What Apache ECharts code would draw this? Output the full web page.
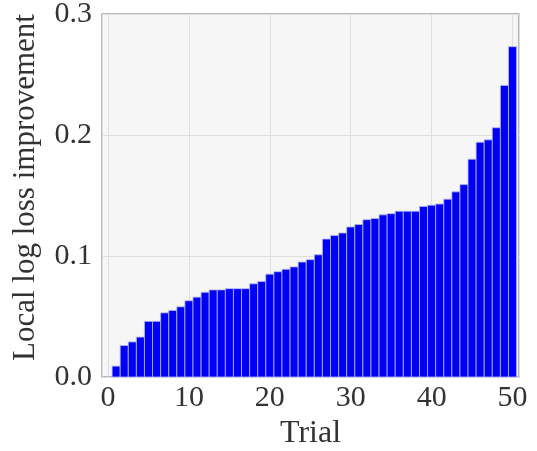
<!DOCTYPE html>
<html>
<head>
<meta charset="utf-8">
<script src="https://cdn.jsdelivr.net/npm/echarts@6/dist/echarts.min.js"></script>
<style>
  html, body { margin: 0; padding: 0; background: #ffffff; }
  #chart { width: 537px; height: 451px; }
</style>
</head>
<body>
<div id="chart"></div>
<script>
// Trial numbers and the local log-loss improvement of each trial (sorted ascending)
const trials = [1, 2, 3, 4, 5, 6, 7, 8, 9, 10,
                11, 12, 13, 14, 15, 16, 17, 18, 19, 20,
                21, 22, 23, 24, 25, 26, 27, 28, 29, 30,
                31, 32, 33, 34, 35, 36, 37, 38, 39, 40,
                41, 42, 43, 44, 45, 46, 47, 48, 49, 50];
const improvement = [0.009, 0.026, 0.029, 0.033, 0.046, 0.046, 0.053, 0.055, 0.058, 0.063,
                     0.066, 0.070, 0.072, 0.072, 0.073, 0.073, 0.073, 0.077, 0.079, 0.085,
                     0.087, 0.089, 0.091, 0.095, 0.097, 0.101, 0.114, 0.117, 0.119, 0.124,
                     0.126, 0.130, 0.131, 0.134, 0.135, 0.137, 0.137, 0.137, 0.141, 0.142,
                     0.143, 0.147, 0.153, 0.159, 0.180, 0.194, 0.196, 0.206, 0.241, 0.273];
const xTicks = [0, 10, 20, 30, 40, 50];
const yTicks = [0.0, 0.1, 0.2, 0.3];

const FONT = '"Liberation Serif", "DejaVu Serif", serif';
const TEXT = '#333333';

const chart = echarts.init(document.getElementById('chart'), null, { renderer: 'canvas' });

const data = trials.map((t, i) => [t, improvement[i]]);

chart.setOption({
  animation: false,
  backgroundColor: '#ffffff',
  grid: {
    left: 102, right: 18, top: 14, bottom: 74,
    outerBoundsMode: 'none',
    containLabel: false,
    show: true,
    backgroundColor: '#f6f6f6',
    borderColor: '#a0a0a0',
    borderWidth: 1.5
  },
  xAxis: {
    type: 'value',
    min: -0.75,
    max: 50.8,
    splitNumber: 5,
    name: 'Trial',
    nameLocation: 'middle',
    nameGap: 40,
    nameTextStyle: { fontFamily: FONT, fontSize: 32, color: TEXT },
    axisLine: { show: false },
    axisTick: { show: false },
    axisLabel: {
      fontFamily: FONT, fontSize: 30, color: TEXT, margin: 6,
      formatter: v => (xTicks.indexOf(v) >= 0 ? String(v) : '')
    },
    splitLine: { show: true, lineStyle: { color: '#dedede', width: 1 } }
  },
  yAxis: {
    type: 'value',
    min: 0,
    max: 0.3,
    interval: 0.1,
    name: 'Local log loss improvement',
    nameLocation: 'middle',
    nameGap: 61,
    nameTextStyle: { fontFamily: FONT, fontSize: 31, color: TEXT, padding: [0, 0, 0, 16] },
    axisLine: { show: false },
    axisTick: { show: false },
    axisLabel: {
      fontFamily: FONT, fontSize: 30, color: TEXT, margin: 10,
      formatter: v => {
        const hit = yTicks.find(t => Math.abs(t - v) < 1e-9);
        return hit === undefined ? '' : hit.toFixed(1);
      }
    },
    splitLine: { show: true, lineStyle: { color: '#dedede', width: 1 } }
  },
  series: [{
    type: 'custom',
    data: data,
    encode: { x: 0, y: 1 },
    renderItem: function (params, api) {
      const x = api.value(0);
      const y = api.value(1);
      const p0 = api.coord([x - 0.5, y]);
      const p1 = api.coord([x + 0.5, 0]);
      return {
        type: 'rect',
        shape: { x: p0[0], y: p0[1], width: p1[0] - p0[0], height: p1[1] - p0[1] },
        style: { fill: '#0000f5', stroke: '#b8b8ff', lineWidth: 0.8 }
      };
    }
  }]
});
</script>
</body>
</html>
